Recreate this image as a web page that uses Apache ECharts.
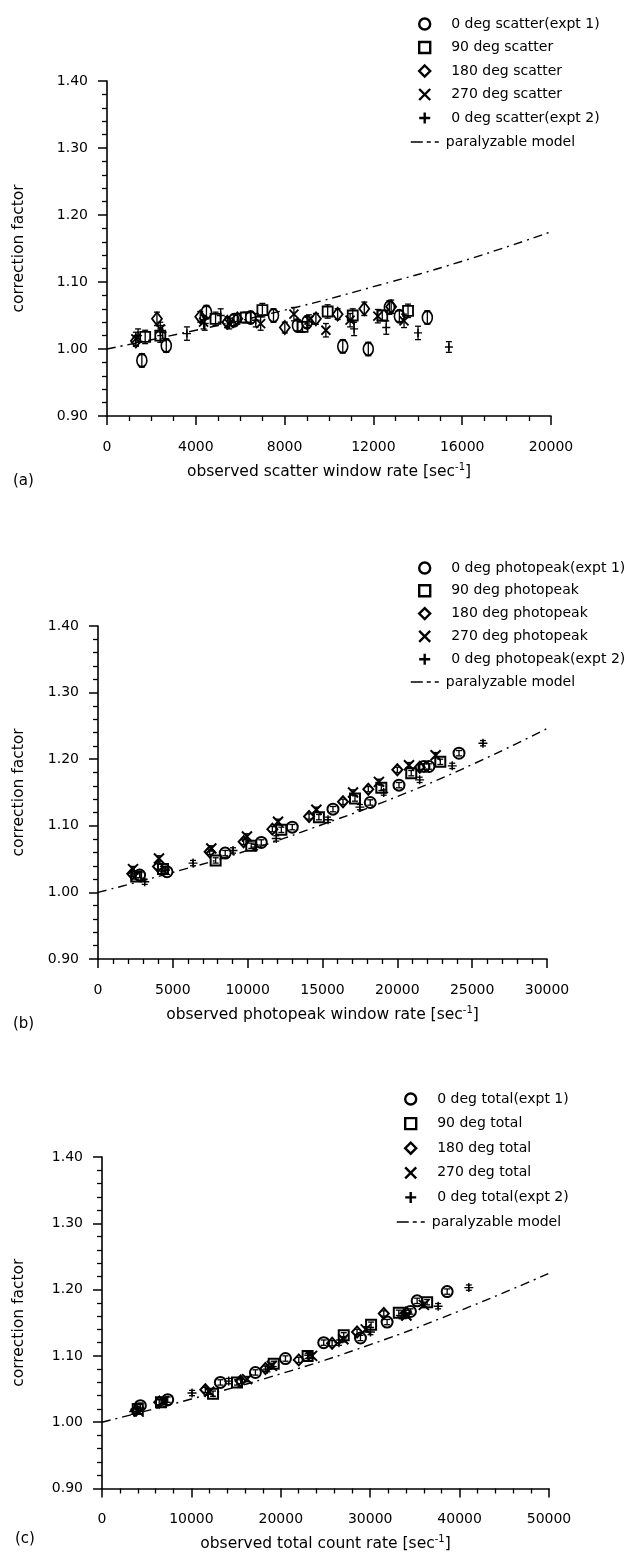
<!DOCTYPE html>
<html><head><meta charset="utf-8">
<script src="https://cdn.jsdelivr.net/npm/echarts@6/dist/echarts.min.js"></script>
<style>html,body{margin:0;padding:0;background:#fff}#c{width:636px;height:1553px}</style>
</head><body><div id="c"></div>
<script>
// ---------- Panel (a): scatter window ----------
const aNames = ['0 deg scatter(expt 1)','90 deg scatter','180 deg scatter','270 deg scatter','0 deg scatter(expt 2)'];
const aCircle  = [[1570,0.983,0.010],[2670,1.005,0.010],[4480,1.055,0.010],[5720,1.043,0.008],[6470,1.047,0.008],[7500,1.050,0.010],[8580,1.035,0.008],[9010,1.040,0.008],[10620,1.004,0.010],[11770,1.000,0.010],[12720,1.062,0.010],[13170,1.049,0.008],[14430,1.047,0.010]];
const aSquare  = [[1720,1.018,0.010],[2400,1.020,0.010],[4890,1.045,0.010],[6250,1.047,0.008],[7000,1.058,0.010],[8810,1.033,0.008],[9940,1.056,0.010],[11070,1.050,0.010],[12400,1.050,0.008],[13560,1.057,0.010]];
const aDiamond = [[1300,1.012,0.008],[2250,1.045,0.010],[4200,1.048,0.008],[5420,1.040,0.008],[5870,1.045,0.008],[8010,1.032,0.008],[9410,1.045,0.008],[10390,1.052,0.008],[11590,1.060,0.010],[12800,1.063,0.010]];
const aCross   = [[1300,1.015,0.010],[2400,1.030,0.010],[4350,1.040,0.010],[5500,1.038,0.008],[6920,1.038,0.010],[8420,1.052,0.010],[9100,1.043,0.008],[9860,1.028,0.010],[10950,1.043,0.010],[12200,1.049,0.010],[13380,1.042,0.010]];
const aPlus    = [[1400,1.020,0.010],[2500,1.025,0.010],[3600,1.023,0.010],[4400,1.038,0.010],[5120,1.050,0.010],[6700,1.043,0.010],[11130,1.030,0.010],[12580,1.032,0.010],[14010,1.024,0.010],[15400,1.003,0.008]];
const aModel   = [[0,1.000],[4000,1.028],[8000,1.058],[12000,1.093],[16000,1.131],[20000,1.175]];
const aXTicks  = {min:0, max:20000, interval:4000, minor:4};

// ---------- Panel (b): photopeak window ----------
const bNames = ['0 deg photopeak(expt 1)','90 deg photopeak','180 deg photopeak','270 deg photopeak','0 deg photopeak(expt 2)'];
const bCircle  = [[2780,1.026,0.004],[4610,1.031,0.004],[8500,1.059,0.004],[10910,1.075,0.004],[12980,1.098,0.004],[15700,1.125,0.004],[18190,1.135,0.004],[20110,1.161,0.004],[21780,1.189,0.004],[22110,1.189,0.004],[24120,1.209,0.004]];
const bSquare  = [[2550,1.024,0.004],[4340,1.035,0.004],[7860,1.048,0.004],[10240,1.070,0.004],[12250,1.094,0.004],[14760,1.113,0.004],[17170,1.141,0.004],[18930,1.157,0.004],[20930,1.179,0.004],[22870,1.196,0.004]];
const bDiamond = [[2290,1.028,0.004],[4010,1.039,0.004],[7460,1.061,0.004],[9730,1.076,0.004],[11650,1.095,0.004],[14100,1.114,0.004],[16370,1.136,0.004],[18060,1.155,0.004],[20000,1.184,0.004],[21500,1.188,0.004]];
const bCross   = [[2340,1.035,0.004],[4075,1.051,0.004],[7570,1.066,0.004],[9950,1.084,0.004],[12030,1.106,0.004],[14590,1.124,0.004],[17040,1.150,0.004],[18770,1.166,0.004],[20780,1.191,0.004],[22560,1.206,0.004]];
const bPlus    = [[3120,1.016,0.004],[4500,1.033,0.004],[6350,1.044,0.004],[9020,1.063,0.004],[10500,1.068,0.004],[11910,1.081,0.004],[15370,1.109,0.004],[17500,1.128,0.004],[19090,1.150,0.004],[21490,1.169,0.004],[23670,1.190,0.004],[25720,1.224,0.004]];
const bModel   = [[0,1.000],[5000,1.030],[10000,1.063],[15000,1.102],[20000,1.144],[25000,1.192],[30000,1.246]];
const bXTicks  = {min:0, max:30000, interval:5000, minor:5};

// ---------- Panel (c): total count ----------
const cNames = ['0 deg total(expt 1)','90 deg total','180 deg total','270 deg total','0 deg total(expt 2)'];
const cCircle  = [[4290,1.025,0.004],[7350,1.034,0.004],[13240,1.060,0.004],[17160,1.075,0.004],[20520,1.096,0.004],[24800,1.120,0.004],[28910,1.127,0.004],[31890,1.151,0.004],[34500,1.167,0.004],[35250,1.183,0.004],[38610,1.197,0.004]];
const cSquare  = [[4000,1.020,0.004],[6600,1.030,0.004],[12420,1.043,0.004],[15100,1.060,0.004],[19210,1.088,0.004],[23000,1.100,0.004],[27040,1.131,0.004],[30100,1.147,0.004],[33200,1.165,0.004],[36370,1.181,0.004]];
const cDiamond = [[3800,1.018,0.004],[6400,1.030,0.004],[11560,1.049,0.004],[15500,1.062,0.004],[18280,1.081,0.004],[22010,1.094,0.004],[25740,1.119,0.004],[28530,1.136,0.004],[31520,1.164,0.004],[34000,1.165,0.004]];
const cCross   = [[4100,1.016,0.004],[6900,1.032,0.004],[12000,1.046,0.004],[16230,1.065,0.004],[19000,1.085,0.004],[23500,1.100,0.004],[27000,1.125,0.004],[29500,1.140,0.004],[34060,1.161,0.004],[36000,1.177,0.004]];
const cPlus    = [[3540,1.016,0.004],[10070,1.044,0.004],[14170,1.062,0.004],[18500,1.080,0.004],[23130,1.101,0.004],[26500,1.120,0.004],[30030,1.136,0.004],[33500,1.160,0.004],[37600,1.175,0.004],[41030,1.203,0.004]];
const cModel   = [[0,1.000],[10000,1.035],[20000,1.073],[30000,1.117],[40000,1.168],[50000,1.2245]];
const cXTicks  = {min:0, max:50000, interval:10000, minor:5};

const yTicks = {min:0.9, max:1.4, interval:0.1, minor:5};
const modelName = 'paralyzable model';
const panelLabels = ['(a)','(b)','(c)'];
const xTitles = ['observed scatter window rate [sec{sup|-1}]','observed photopeak window rate [sec{sup|-1}]','observed total count rate [sec{sup|-1}]'];
const yTitle = 'correction factor';

// ---------- styles / layout ----------
const FONT = '"DejaVu Sans", "Liberation Sans", Arial, sans-serif';
const BLACK = '#000';
const SYM_X = 'path://M0,0L10,10M10,0L0,10';
const SYM_P = 'path://M5,0L5,10M0,5L10,5';

const layout = [
  {grid:{left:107, top:81, width:444, height:335}, yGap:80, xGap:46, yLm:19,
   leg:{left:413, top:12, gap:9.5}, legM:{left:405, top:130}, lab:{left:8, top:469},
   sym:{c:[10,13], s:10, d:[10,13], x:9, p:8}, bw:1.8},
  {grid:{left:98, top:626, width:449, height:333}, yGap:71, xGap:46, yLm:19,
   leg:{left:413, top:556, gap:8.8}, legM:{left:405, top:670}, lab:{left:8, top:1012},
   sym:{c:11, s:10, d:[10,11], x:10, p:9}, bw:2},
  {grid:{left:102, top:1157, width:447, height:334}, yGap:75, xGap:46, yLm:19,
   leg:{left:399, top:1087, gap:10.6}, legM:{left:391, top:1210}, lab:{left:10, top:1527},
   sym:{c:11, s:10, d:[10,11], x:10, p:9}, bw:2}
];

const panels = [
  {names:aNames, sets:[aCircle,aSquare,aDiamond,aCross,aPlus], model:aModel, xt:aXTicks},
  {names:bNames, sets:[bCircle,bSquare,bDiamond,bCross,bPlus], model:bModel, xt:bXTicks},
  {names:cNames, sets:[cCircle,cSquare,cDiamond,cCross,cPlus], model:cModel, xt:cXTicks}
];

function errRender(params, api){
  const x = api.value(0), y = api.value(1), e = api.value(2);
  const t = api.coord([x, y + e]), b = api.coord([x, y - e]);
  const hw = 3;
  const st = {stroke: BLACK, lineWidth: 1.3};
  return {type:'group', children:[
    {type:'line', shape:{x1:t[0], y1:t[1], x2:b[0], y2:b[1]}, style:st},
    {type:'line', shape:{x1:t[0]-hw, y1:t[1], x2:t[0]+hw, y2:t[1]}, style:st},
    {type:'line', shape:{x1:b[0]-hw, y1:b[1], x2:b[0]+hw, y2:b[1]}, style:st}
  ]};
}

const option = {
  backgroundColor:'#fff', animation:false,
  textStyle:{fontFamily:FONT, color:BLACK},
  title:[], grid:[], xAxis:[], yAxis:[], legend:[], series:[]
};

panels.forEach((p, i) => {
  const L = layout[i];
  option.grid.push(Object.assign({containLabel:false}, L.grid));
  option.xAxis.push({
    type:'value', gridIndex:i, min:p.xt.min, max:p.xt.max, interval:p.xt.interval,
    axisLine:{lineStyle:{color:BLACK, width:1.6}},
    axisTick:{inside:false, length:9, lineStyle:{color:BLACK, width:1.5}},
    minorTick:{show:true, splitNumber:p.xt.minor, length:5, lineStyle:{color:BLACK, width:1.3}},
    splitLine:{show:false}, minorSplitLine:{show:false},
    axisLabel:{color:BLACK, fontSize:14, margin:24, fontFamily:FONT, formatter:v => String(v)},
    name:xTitles[i], nameLocation:'middle', nameGap:L.xGap,
    nameTextStyle:{color:BLACK, fontSize:15.5, fontFamily:FONT,
      rich:{sup:{fontSize:10, padding:[0,0,9,0], fontFamily:FONT, color:BLACK}}}
  });
  option.yAxis.push({
    type:'value', gridIndex:i, min:yTicks.min, max:yTicks.max, interval:yTicks.interval,
    axisLine:{lineStyle:{color:BLACK, width:1.6}},
    axisTick:{inside:false, length:9, lineStyle:{color:BLACK, width:1.5}},
    minorTick:{show:true, splitNumber:yTicks.minor, length:5, lineStyle:{color:BLACK, width:1.3}},
    splitLine:{show:false}, minorSplitLine:{show:false},
    axisLabel:{color:BLACK, fontSize:14, margin:L.yLm, fontFamily:FONT, formatter:v => v.toFixed(2)},
    name:yTitle, nameLocation:'middle', nameGap:L.yGap, nameRotate:90,
    nameTextStyle:{color:BLACK, fontSize:15.5, fontFamily:FONT}
  });
  option.title.push({text:panelLabels[i], left:L.lab.left, top:L.lab.top,
    textStyle:{fontSize:15, fontWeight:'normal', color:BLACK, fontFamily:FONT}});

  const syms = [
    {symbol:'circle', size:L.sym.c},
    {symbol:'rect', size:L.sym.s},
    {symbol:'diamond', size:L.sym.d},
    {symbol:SYM_X, size:L.sym.x},
    {symbol:SYM_P, size:L.sym.p}
  ];
  // error bars (drawn through the axes' scales)
  option.series.push({
    type:'custom', xAxisIndex:i, yAxisIndex:i, renderItem:errRender,
    encode:{x:0, y:1}, data:[].concat(...p.sets), z:1, silent:true
  });
  p.sets.forEach((d, k) => {
    option.series.push({
      name:p.names[k], type:'scatter', xAxisIndex:i, yAxisIndex:i,
      data:d, symbol:syms[k].symbol, symbolSize:syms[k].size, z:3,
      itemStyle:{color:'rgba(0,0,0,0)', borderColor:BLACK, borderWidth:(k===4?1.4:L.bw), opacity:1}
    });
  });
  option.series.push({
    name:modelName, type:'line', xAxisIndex:i, yAxisIndex:i, data:p.model, smooth:true,
    symbol:'none', showSymbol:false, z:2,
    itemStyle:{color:BLACK},
    lineStyle:{color:BLACK, width:1.4, type:[9,5,2,5]}
  });
  option.legend.push({
    data:p.names, orient:'vertical', left:L.leg.left, top:L.leg.top,
    itemWidth:11, itemHeight:11, itemGap:L.leg.gap, selectedMode:false,
    itemStyle:{color:'rgba(0,0,0,0)', borderColor:BLACK, borderWidth:2.4},
    textStyle:{color:BLACK, fontSize:14, lineHeight:14, fontFamily:FONT, padding:[0,0,0,16]}
  });
  option.legend.push({
    data:[modelName], orient:'vertical', left:L.legM.left, top:L.legM.top,
    itemWidth:30, itemHeight:14, selectedMode:false,
    itemStyle:{color:'rgba(0,0,0,0)', borderColor:'rgba(0,0,0,0)', borderWidth:0},
    lineStyle:{color:BLACK, width:1.5, type:[12,4,4,4,4,2]},
    textStyle:{color:BLACK, fontSize:14, lineHeight:14, fontFamily:FONT}
  });
});

const chart = echarts.init(document.getElementById('c'), null, {renderer:'canvas'});
chart.setOption(option);
</script>
</body></html>
